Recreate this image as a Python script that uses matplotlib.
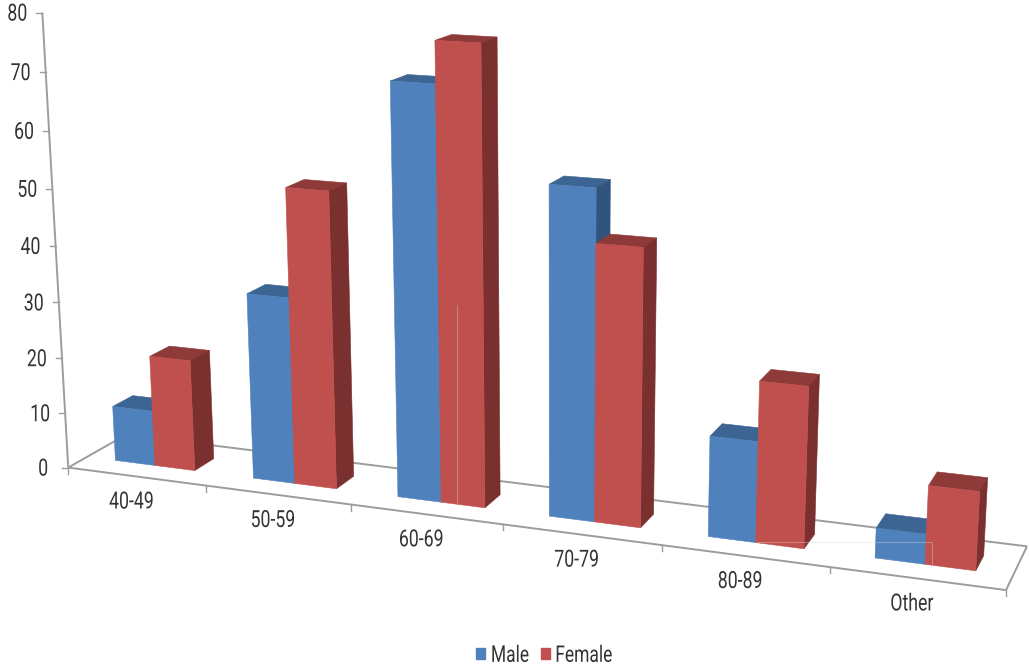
import numpy as np
import matplotlib
matplotlib.use("Agg")
import matplotlib.pyplot as plt
from matplotlib.patches import Polygon, Patch
from matplotlib.patheffects import AbstractPathEffect
from matplotlib.transforms import Affine2D

categories = ["40-49", "50-59", "60-69", "70-79", "80-89", "Other"]
male = [10, 33, 71, 56, 17, 5]
female = [20, 52, 78, 47, 27, 13]
y_ticks = [0, 10, 20, 30, 40, 50, 60, 70, 80]

MALE_C = ("#4F81BD", "#3C6594", "#30547C")
FEMALE_C = ("#C0504D", "#8E3A38", "#7A302E")
AXIS_C = "#9C9C9C"
TEXT_C = "#333333"
FONT = ["Roboto", "DejaVu Sans"]

# Camera calibration of the 3D view: (category position, value, depth) -> pixel
world = np.array([(0,0,0),(1,0,0),(2,0,0),(3,0,0),(4,0,0),(5,0,0),(6,0,0),
                  (6,0,1),(0,0,1),(0,80,0),(0,40,0),(6,80,0)], float)
pixel = np.array([(68,467),(207,486),(351,505),(503,525),(662,545),(830,567),(1006,590),
                  (1027,546),(126,435),(42,13),(56,245),(1034,67)], float)
rows, rhs = [], []
for (X, Y, Z), (u, v) in zip(world, pixel):
    rows.append([X, Y, Z, 1, 0, 0, 0, 0, -u*X, -u*Y, -u*Z]); rhs.append(u)
    rows.append([0, 0, 0, 0, X, Y, Z, 1, -v*X, -v*Y, -v*Z]); rhs.append(v)
sol = np.linalg.lstsq(np.array(rows), np.array(rhs), rcond=None)[0]
P = np.append(sol, 1).reshape(3, 4)


def proj(x, y, z):
    h = P @ np.array([x, y, z, 1.0])
    return h[0] / h[2], h[1] / h[2]


class Condense(AbstractPathEffect):
    """Narrow a text horizontally, as the condensed face of the original does."""

    def __init__(self, factor, anchor="center"):
        super().__init__()
        self.factor = factor
        self.anchor = anchor

    def draw_path(self, renderer, gc, tpath, affine, rgbFace=None):
        box = tpath.transformed(affine).get_extents()
        cx = box.x0 if self.anchor == "left" else 0.5 * (box.x0 + box.x1)
        squeeze = Affine2D().translate(-cx, 0).scale(self.factor, 1).translate(cx, 0)
        renderer.draw_path(gc, tpath, affine + squeeze, rgbFace)


def seg(ax, a, b, **kw):
    pa, pb = proj(*a), proj(*b)
    ax.plot([pa[0], pb[0]], [pa[1], pb[1]], solid_capstyle="butt", **kw)


fig = plt.figure(figsize=(10.29, 6.65), dpi=100)
ax = fig.add_axes([0, 0, 1, 1])
ax.set_xlim(0, 1029)
ax.set_ylim(665, 0)
ax.axis("off")

line = dict(color=AXIS_C, lw=1.4, zorder=1)
n = len(categories)
top = max(y_ticks)
seg(ax, (0, 0, 0), (0, top, 0), **line)
seg(ax, (0, 0, 0), (n, 0, 0), **line)
seg(ax, (0, 0, 0), (0, 0, 1), **line)
seg(ax, (0, 0, 1), (n, 0, 1), **line)
seg(ax, (n, 0, 0), (n, 0, 1), **line)

condensed = [Condense(0.75)]
for t in y_ticks:
    x, y = proj(0, t, 0)
    ax.plot([x - 6, x], [y, y], color=AXIS_C, lw=1, zorder=1)
    ax.text(x - 25, y + 1.5, str(t), ha="center", va="center", family=FONT,
            fontsize=17, color=TEXT_C, path_effects=condensed)
for i in range(n + 1):
    x, y = proj(i, 0, 0)
    ax.plot([x, x], [y, y + 6], color=AXIS_C, lw=1, zorder=1)
for i, c in enumerate(categories):
    x, y = proj(i + 0.5, 0, 0)
    ax.text(x - 5, y + 25.5, c, ha="center", va="center", family=FONT,
            fontsize=17, color=TEXT_C, path_effects=condensed)

Z0, Z1 = 0.32, 0.67


def bar(ax, xa, xb, v, colors, zo):
    front, topc, side = colors
    faces = [
        (topc, [(xa, v, Z0), (xb, v, Z0), (xb, v, Z1), (xa, v, Z1)]),
        (side, [(xb, 0, Z0), (xb, v, Z0), (xb, v, Z1), (xb, 0, Z1)]),
        (front, [(xa, 0, Z0), (xb, 0, Z0), (xb, v, Z0), (xa, v, Z0)]),
    ]
    for c, pts in faces:
        ax.add_patch(Polygon([proj(*p) for p in pts], closed=True, facecolor=c,
                             edgecolor=c, lw=0.4, zorder=zo))


for i in range(n):
    bar(ax, i + 0.21, i + 0.5, male[i], MALE_C, 3 + i)
    bar(ax, i + 0.5, i + 0.79, female[i], FEMALE_C, 3.5 + i)

# Faint scan marks left in the source image
mark = dict(color="#D8D8D8", alpha=0.4, lw=0.7, zorder=20)
ax.plot([457, 457], [305, 505], **mark)
ax.plot([757, 932, 932], [542, 542, 565], **mark)

leg = ax.legend(handles=[Patch(color=MALE_C[0], label="Male"),
                         Patch(color=FEMALE_C[0], label="Female")],
                ncol=2, frameon=False, loc="center", bbox_to_anchor=(0.5374, 0.0145),
                prop={"family": FONT, "size": 16.5}, labelcolor=TEXT_C,
                handlelength=0.4, handleheight=0.4, handletextpad=0.22,
                columnspacing=0.0, borderpad=0, borderaxespad=0)
for txt in leg.get_texts():
    txt.set_path_effects([Condense(0.76, "left")])

fig.savefig("out.png", dpi=100)
